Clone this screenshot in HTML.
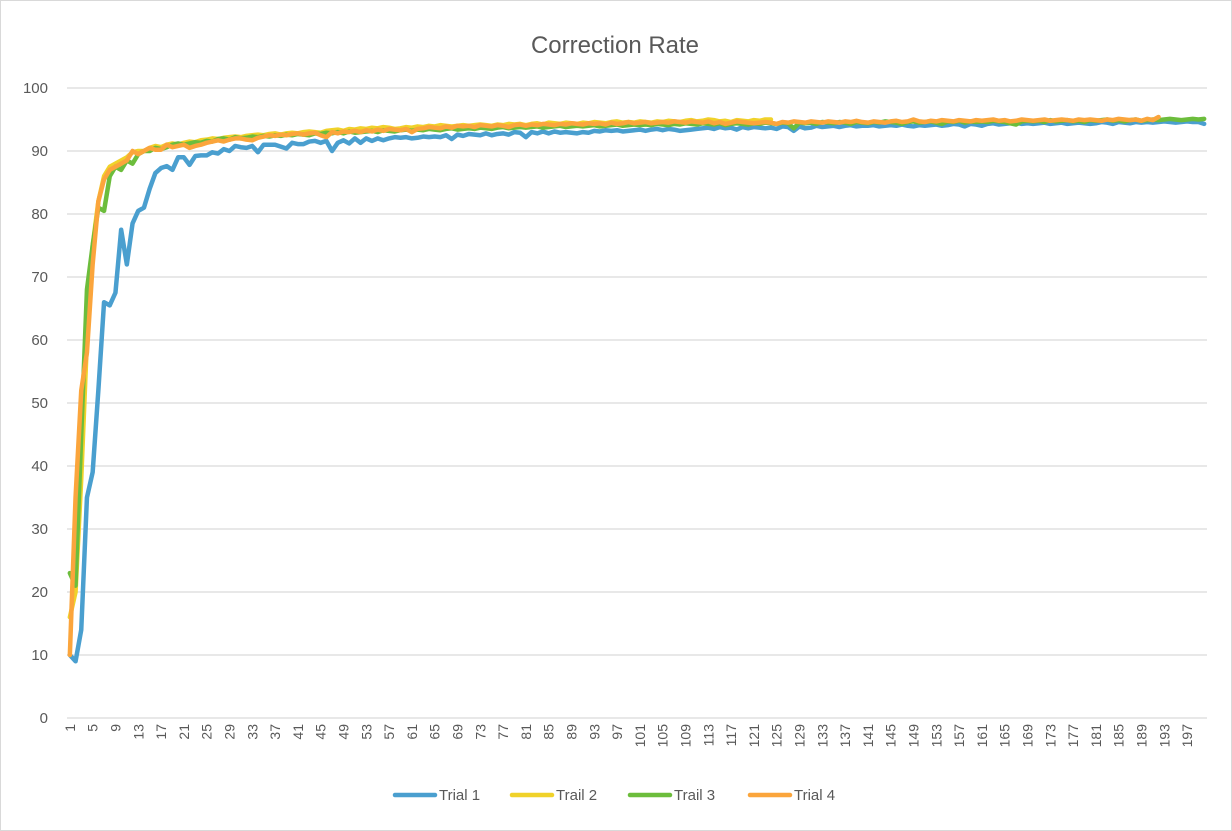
<!DOCTYPE html>
<html><head><meta charset="utf-8">
<style>
html,body{margin:0;padding:0;background:#fff;}
svg{display:block;font-family:"Liberation Sans",sans-serif;}
</style></head>
<body>
<svg id="chart" width="1232" height="831" viewBox="0 0 1232 831">
<rect x="0.5" y="0.5" width="1231" height="830" fill="#fff" stroke="#d9d9d9"/>
<text x="615" y="53" text-anchor="middle" font-size="24" fill="#595959">Correction Rate</text>
<g id="grid"></g><g id="yt"></g><g id="xt"></g><g id="series"></g>
<g id="legend"></g>
</svg>
<script>
const yTicks=[0,10,20,30,40,50,60,70,80,90,100];
const seriesNames=["Trial 1","Trail 2","Trail 3","Trial 4"];
const seriesColors=["#4a9fcf","#f0d22a","#6cbd3c","#fba53c"];
const trial1=[10,9,14,35,39,52,66,65.5,67.5,77.5,
72,78.5,80.5,81,84,86.5,87.3,87.6,87,89,
89,87.8,89.2,89.3,89.3,89.8,89.6,90.3,90,90.8,
90.6,90.5,90.8,89.8,91,91,91,90.7,90.4,91.3,
91.1,91.1,91.5,91.6,91.3,91.6,90,91.3,91.7,91.2,
92,91.3,92,91.6,92,91.7,92,92.2,92.1,92.2,
92,92.1,92.3,92.2,92.3,92.2,92.5,91.9,92.6,92.4,
92.7,92.6,92.5,92.8,92.5,92.7,92.8,92.6,93,92.9,
92.2,93,92.8,93.1,92.8,93.1,92.9,93,92.9,92.8,
93,92.9,93.2,93.1,93.3,93.2,93.3,93.1,93.2,93.3,
93.4,93.2,93.4,93.5,93.3,93.5,93.4,93.2,93.3,93.4,
93.5,93.6,93.7,93.5,93.8,93.6,93.7,93.4,93.8,93.6,
93.8,93.7,93.6,93.7,93.5,93.9,93.8,93.2,93.9,93.6,
93.7,94,93.8,93.9,94,93.8,94,94.1,93.9,94,
94,94.1,93.9,94,94.1,94,94.2,94,93.9,94.1,
94,94.1,94.2,94,94.1,94.3,94.2,93.9,94.3,94.2,
94,94.3,94.4,94.2,94.3,94.4,94.5,94.3,94.4,94.3,
94.4,94.5,94.3,94.4,94.5,94.3,94.4,94.5,94.4,94.3,
94.4,94.6,94.5,94.3,94.6,94.5,94.4,94.6,94.5,94.6,
94.5,94.6,94.7,94.6,94.5,94.6,94.7,94.6,94.6,94.3];
const trial2=[16,20,38,60,75,82,86,87.5,88,88.5,
89,89.8,90,90,90.5,90.8,90.6,91,91.2,91,
91.3,91.5,91.4,91.7,91.8,92,91.9,92.1,92.2,92.3,
92.2,92.4,92.5,92.6,92.5,92.7,92.8,92.6,92.8,92.9,
92.8,93,93.1,93,92.9,93.2,93.3,93.4,93.2,93.5,
93.4,93.6,93.5,93.7,93.6,93.8,93.7,93.5,93.6,93.8,
93.7,93.9,93.8,94,93.9,94.1,94,93.9,94,94.1,
94,94.1,94.2,94.1,94,94.2,94.1,94.3,94.2,94.3,
94.1,94.3,94.4,94.2,94.5,94.4,94.3,94.5,94.4,94.3,
94.5,94.4,94.6,94.5,94.4,94.6,94.7,94.5,94.6,94.5,
94.7,94.6,94.5,94.7,94.6,94.8,94.7,94.6,94.8,94.9,
94.7,94.8,95,94.9,94.7,94.8,94.6,94.9,94.8,94.7,
94.9,94.8,95,95];
const trial3=[23,21,45,68,75,81,80.5,86,87.5,87,
88.5,88,89.5,90,90,90.5,90.3,90.6,91,91.2,
91,91.2,91.4,91.3,91.6,91.5,91.9,92,91.8,92.2,
92,92.1,92.3,92.2,92.4,92.3,92.5,92.4,92.6,92.5,
92.7,92.6,92.5,92.8,92.7,92.9,92.8,93,92.8,93.1,
92.9,93,93.1,93.2,93,93.3,93.2,93.1,93.3,93.4,
93.2,93.4,93.3,93.5,93.4,93.3,93.5,93.6,93.4,93.5,
93.6,93.5,93.7,93.6,93.5,93.7,93.8,93.6,93.7,93.8,
93.7,93.8,93.9,93.7,93.8,93.9,94,93.8,93.9,94,
93.9,94,94.1,93.9,94,94.1,94.2,94,94.1,94.2,
94.1,94.2,94.1,94.3,94.2,94.1,94.3,94.2,94.4,94.3,
94.2,94.4,94.3,94.2,94.4,94.1,94.3,94.4,94.3,94.2,
94.4,94.3,94.5,94.4,94.3,94.5,94.4,93.6,94.5,94.4,
94.5,94.3,94.6,94.5,94.4,94.6,94.5,94.3,94.6,94.5,
94.4,94.6,94.5,94.7,94.6,94.5,94.3,94.6,94.7,94.5,
94.6,94.7,94.5,94.3,94.7,94.6,94.8,94.5,94.7,94.6,
94.7,94.6,94.8,94.7,94.6,94.4,94.2,94.7,94.8,94.7,
94.8,94.6,94.9,94.7,94.8,94.9,94.7,94.8,94.6,94.9,
94.8,94.9,95,94.8,94.9,94.7,94.9,95,94.8,94.9,
95,94.9,95,95.1,95,94.9,95,95.1,95,95.1];
const trial4=[10,35,52,58,72,82,85.5,87,87.5,88,
88.5,90,89.5,90,90.5,90.2,90.2,91,90.6,90.8,
91,90.5,90.8,91,91.3,91.5,91.7,91.5,91.8,92,
92,91.8,91.7,92.1,92.3,92.5,92.4,92.6,92.5,92.7,
92.8,92.6,92.8,92.9,92.5,92.2,93,92.8,93.1,93,
93.2,93,93.3,93.1,93.4,93.2,93.5,93.4,93.3,93.5,
93,93.5,93.6,93.8,93.7,93.6,93.9,93.7,94,93.9,
94,93.8,94.1,94,93.9,94.1,94,93.8,94.1,94.2,
94,94.2,94.1,94.3,94.2,94.1,94.3,94.2,94.4,94.3,
94.2,94.4,94.3,94.4,94.2,94.5,94.3,94.4,94.6,94.4,
94.5,94.6,94.4,94.5,94.6,94.5,94.7,94.6,94.5,94.7,
94.6,94.5,94.7,94.4,94.6,94.3,94.5,94.7,94.6,94.5,
94.4,94.5,94.6,94.5,94.3,94.6,94.5,94.7,94.6,94.5,
94.7,94.6,94.5,94.7,94.6,94.5,94.7,94.6,94.8,94.6,
94.5,94.7,94.6,94.5,94.7,94.8,94.6,94.7,95,94.7,
94.6,94.8,94.7,94.9,94.8,94.7,94.9,94.8,94.7,94.9,
94.8,94.9,95,94.8,94.9,94.7,94.8,95,94.9,94.8,
94.9,95,94.8,94.9,95,94.9,94.8,95,94.9,95,
94.9,94.8,95,94.9,95.1,95,94.9,95,94.8,95.1,
94.9,95.4];
const seriesData=[trial1,trial2,trial3,trial4];
const nCat=200;
const xLabels=[];for(let i=1;i<=nCat;i+=4)xLabels.push(i);

const NS="http://www.w3.org/2000/svg";
const L=67,R=1207,T=88,B=718;
const step=(R-L)/nCat;
const xPos=i=>L+step*(i+0.5);
const yPos=v=>B-(v-0)/(100-0)*(B-T);
function mk(tag,attrs,parent){const e=document.createElementNS(NS,tag);for(const k in attrs)e.setAttribute(k,attrs[k]);parent.appendChild(e);return e;}

const grid=document.getElementById('grid'),yt=document.getElementById('yt'),xt=document.getElementById('xt'),sg=document.getElementById('series'),lg=document.getElementById('legend');
yTicks.forEach(v=>{
  const y=yPos(v);
  const ln=mk('line',{x1:L,x2:R,y1:y,y2:y,stroke:'#d9d9d9','stroke-width':1.3},grid);
  
  
  const t=mk('text',{x:48,y:y+5,'text-anchor':'end','font-size':15,fill:'#595959'},yt);
  t.textContent=v;
  
  
});
xLabels.forEach(c=>{
  const x=xPos(c-1);
  const t=mk('text',{x:0,y:0,transform:`translate(${x+5},724) rotate(-90)`,'text-anchor':'end','font-size':14,fill:'#595959'},xt);
  t.textContent=c;
  
  
});
seriesData.forEach((d,s)=>{
  const pts=d.map((v,i)=>xPos(i).toFixed(2)+','+yPos(v).toFixed(2)).join(' ');
  const p=mk('polyline',{points:pts,fill:'none',stroke:seriesColors[s],'stroke-width':4.5,'stroke-linejoin':'round','stroke-linecap':'round'},sg);
  
  
});
const legX=[395,512,630,750];
seriesNames.forEach((n,s)=>{
  const g=mk('g',{},lg);
  
  
  mk('line',{x1:legX[s],x2:legX[s]+40,y1:795,y2:795,stroke:seriesColors[s],'stroke-width':4.5,'stroke-linecap':'round'},g);
  const t=mk('text',{x:legX[s]+44,y:800,'font-size':15,fill:'#595959'},g);
  t.textContent=n;
});
</script>
</body></html>
